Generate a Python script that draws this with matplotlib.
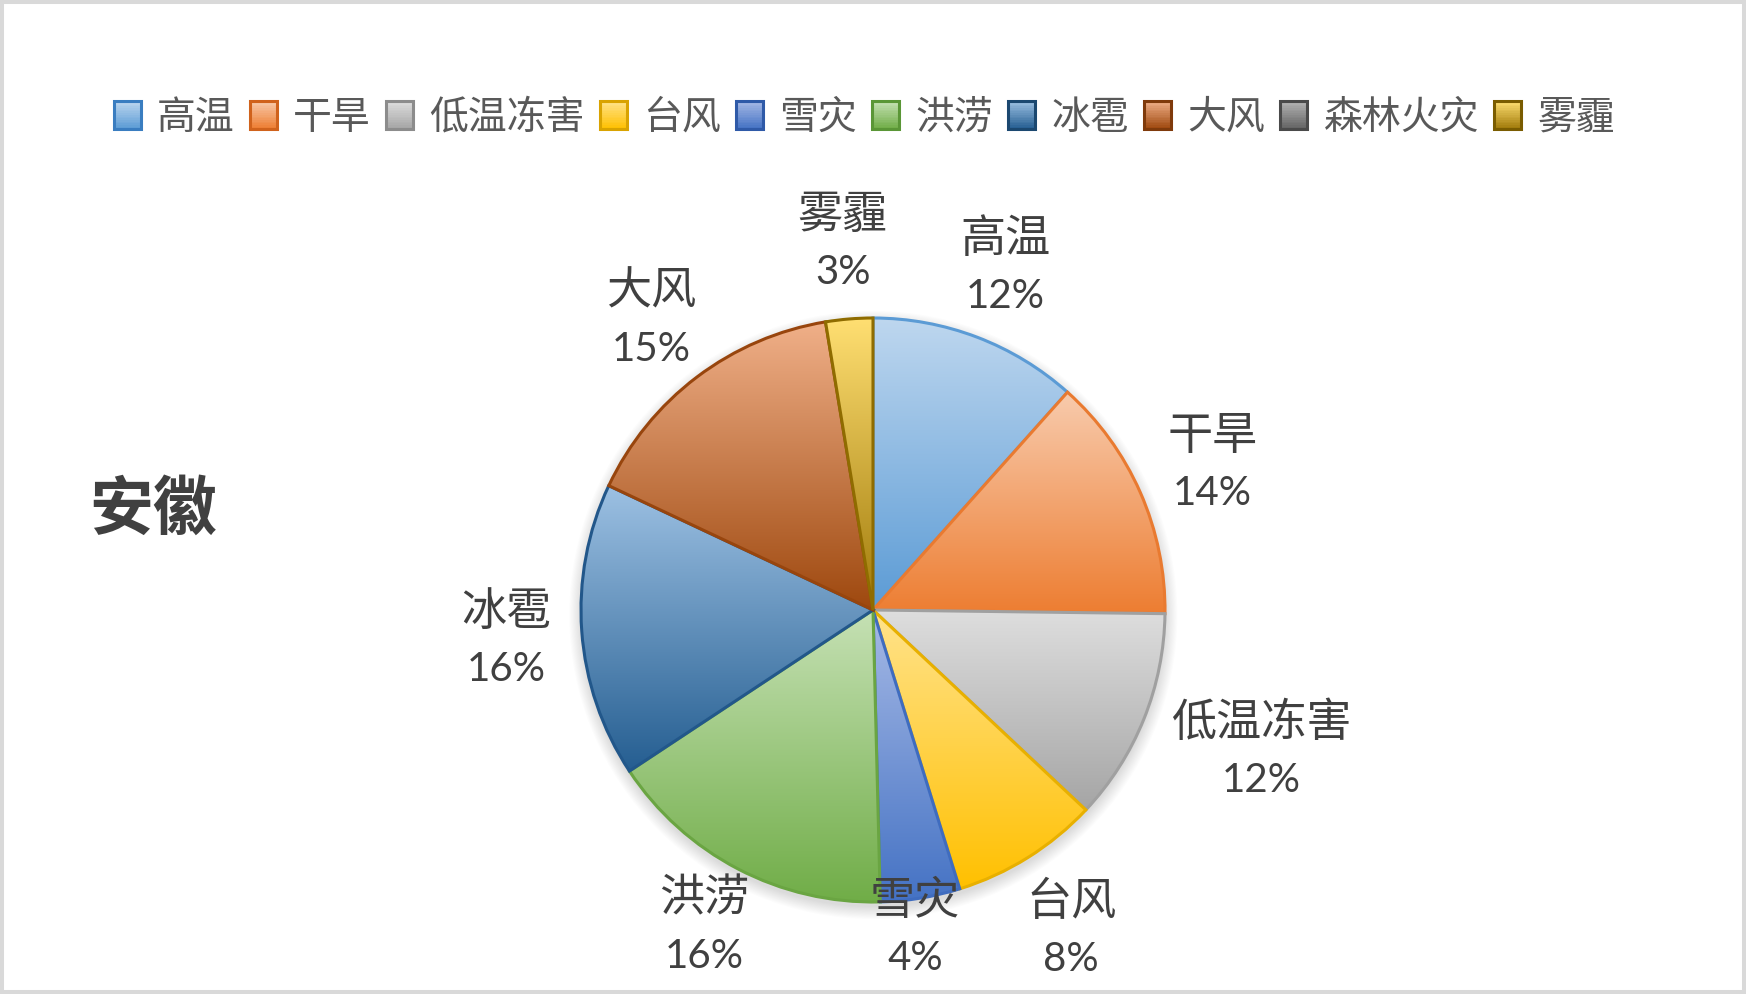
import numpy as np
import matplotlib
matplotlib.use("Agg")
import matplotlib.pyplot as plt
from matplotlib.patches import Rectangle, Circle, Patch
from matplotlib.legend_handler import HandlerBase
from matplotlib.font_manager import FontProperties

# ---------------- data ----------------
categories = ["高温", "干旱", "低温冻害", "台风", "雪灾", "洪涝", "冰雹", "大风", "森林火灾", "雾霾"]
values = [11.6, 13.6, 11.8, 8.2, 4.4, 16.1, 16.3, 15.4, 0.0, 2.6]
title_text = "安徽"

# ---------------- styles ----------------
base_colors = ["#5B9BD5", "#ED7D31", "#A5A5A5", "#FFC000", "#4472C4",
               "#70AD47", "#255E91", "#9E480E", "#636363", "#997300"]
top_colors = ["#BED7EF", "#F8CBAD", "#DEDEDE", "#FFE38C", "#A7BAE6",
              "#C6E1B5", "#9DC1E3", "#F0B089", "#B5B5B5", "#FFDF72"]
bottom_colors = ["#5B9BD5", "#ED7D31", "#A5A5A5", "#FFC000", "#4472C4",
                 "#70AD47", "#255E91", "#9E480E", "#636363", "#A07A0A"]
edge_colors = ["#5B9BD5", "#E97A30", "#A0A0A0", "#E8B000", "#3F6CBF",
               "#6AA542", "#22578A", "#98450D", "#555555", "#8F6C00"]
legend_edges = ["#3A7DC0", "#D0621C", "#8C8C8C", "#D9A300", "#2F5AA8",
                "#5A9636", "#1B4870", "#7F3A0B", "#4A4A4A", "#7A5C00"]
label_r = [1.27, 1.27, 1.41, 1.28, 1.09, 1.22, 1.26, 1.26, 1.27, 1.27]
label_angle_shift = [0, 0, 2.4, 0, -1.8, -0.8, 0, 0, 0, 0]  # degrees (ccw positive)

W, H = 1746, 994
CX, CY, RPX = 873, 610, 292
TEXT_DARK = "#404040"
LEGEND_TEXT = "#595959"
CJK = ["Noto Sans CJK SC", "DejaVu Sans"]
NUMF = ["Lato", "Noto Sans CJK SC", "DejaVu Sans"]

fig = plt.figure(figsize=(W / 100, H / 100), dpi=100)
fig.patch.set_facecolor("white")
ax = fig.add_axes([0, 0, 1, 1])
ax.axis("off")

# soft shadow under the pie
for k in range(12):
    ax.add_patch(Circle((0.3 / RPX, -5 / RPX), 1 + k * 1.1 / RPX, facecolor="black",
                        edgecolor="none", alpha=0.011, zorder=1))

wedges, _ = ax.pie(values, startangle=90, counterclock=False, radius=1, center=(0, 0),
                   wedgeprops=dict(linewidth=2.2))

total = float(sum(values))
for i, w in enumerate(wedges):
    if values[i] <= 0:
        w.set_visible(False)
        continue
    w.set_facecolor("none")
    w.set_edgecolor(edge_colors[i])
    w.set_zorder(3 + 2 * i + 1)
    bb = w.get_path().get_extents()
    c0 = np.array(matplotlib.colors.to_rgb(top_colors[i]))
    c1 = np.array(matplotlib.colors.to_rgb(bottom_colors[i]))
    t = np.linspace(0, 1, 256)[:, None, None]
    grad = c0[None, None, :] * (1 - t) + c1[None, None, :] * t
    im = ax.imshow(grad, extent=[bb.x0, bb.x1, bb.y0, bb.y1], origin="upper",
                   aspect="auto", interpolation="bilinear", zorder=3 + 2 * i)
    im.set_clip_path(w)

    # data label
    mid = np.deg2rad((w.theta1 + w.theta2) / 2 + label_angle_shift[i])
    r = label_r[i]
    lx, ly = r * np.cos(mid), r * np.sin(mid)
    pct = f"{values[i] / total * 100:.0f}%"
    ax.annotate(categories[i], xy=(lx, ly), xytext=(0, 8.6), textcoords="offset points",
                ha="center", va="baseline", fontsize=32.5, color=TEXT_DARK,
                family=CJK, zorder=40)
    ax.annotate(pct, xy=(lx, ly), xytext=(0, -31.7), textcoords="offset points",
                ha="center", va="baseline", fontsize=29, color=TEXT_DARK,
                family=NUMF, zorder=40)

ax.set_xlim(-CX / RPX, (W - CX) / RPX)
ax.set_ylim(-(H - CY) / RPX, CY / RPX)
ax.set_aspect("equal", adjustable="box")
ax.set_position([0, 0, 1, 1])


# ---------------- legend with gradient squares ----------------
class HandlerGrad(HandlerBase):
    def __init__(self, top, bot, edge):
        super().__init__()
        self.top = np.array(matplotlib.colors.to_rgb(top))
        self.bot = np.array(matplotlib.colors.to_rgb(bot))
        self.edge = edge

    def create_artists(self, legend, orig_handle, xdescent, ydescent, width, height,
                       fontsize, trans):
        arts = []
        n = 16
        x0, y0 = -xdescent, -ydescent
        for j in range(n):
            f = (j + 0.5) / n
            col = self.bot * (1 - f) + self.top * f
            arts.append(Rectangle((x0, y0 + j * height / n), width, height / n + 0.3,
                                  facecolor=col, edgecolor="none", transform=trans))
        arts.append(Rectangle((x0, y0), width, height, facecolor="none",
                              edgecolor=self.edge, linewidth=2.2, transform=trans))
        return arts


handles = [Patch(facecolor=c) for c in base_colors]
hmap = {h: HandlerGrad(top_colors[i], bottom_colors[i], legend_edges[i])
        for i, h in enumerate(handles)}
leg = fig.legend(handles, categories, handler_map=hmap, loc="center",
                 bbox_to_anchor=(0.4951, 1 - 117.5 / H), ncol=len(categories),
                 frameon=False, prop=FontProperties(family=CJK, size=28),
                 handlelength=0.70, handleheight=0.70, handletextpad=0.42,
                 columnspacing=0.38, labelcolor=LEGEND_TEXT, borderpad=0)

# title
fig.text(153 / W, 1 - 510 / H, title_text, ha="center", va="center", fontsize=46,
         fontweight="bold", color=TEXT_DARK, family=CJK)

# outer border
fig.patches.append(Rectangle((2 / W, 2 / H), 1 - 4 / W, 1 - 4 / H, transform=fig.transFigure,
                             facecolor="none", edgecolor="#D9D9D9", linewidth=2.9,
                             zorder=50))

fig.savefig("out.png", dpi=100, facecolor="white")
